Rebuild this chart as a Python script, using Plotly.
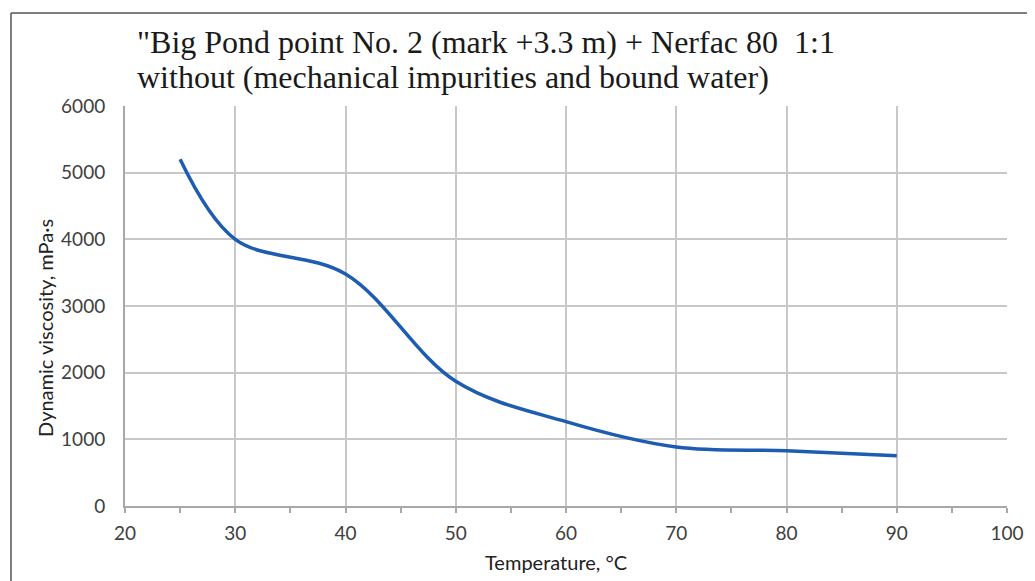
import plotly.graph_objects as go

temperature = [25, 30, 40, 50, 60, 70, 80, 90]
viscosity = [5200, 4000, 3480, 1870, 1265, 885, 830, 755]

x_ticks = [20, 30, 40, 50, 60, 70, 80, 90, 100]
y_ticks = [0, 1000, 2000, 3000, 4000, 5000, 6000]

title_line1 = '"Big Pond point No. 2 (mark +3.3 m) + Nerfac 80  1:1'
title_line2 = 'without (mechanical impurities and bound water)'
x_title = "Temperature, °C"
y_title = "Dynamic viscosity, mPa·s"

# page offset (default body margin in the html page)
OFF = 8
W, H = 1035 - OFF, 581 - OFF
L, T = 125 - OFF, 106 - OFF
R = W - (1007 - OFF)
B = H - (506 - OFF)
pw, ph = W - L - R, H - T - B


def px_x(px):
    return (px - OFF - L) / pw


def px_y(py):
    return (H - B - (py - OFF)) / ph


SANS = "Lato"
TICKC = "#404040"

fig = go.Figure()
fig.add_trace(go.Scatter(
    x=temperature, y=viscosity, mode="lines",
    line=dict(color="#1d5cb0", width=3.5, shape="spline", smoothing=1.0),
    showlegend=False, hoverinfo="x+y",
))

fig.update_layout(
    width=W, height=H,
    margin=dict(l=L, r=R, t=T, b=B),
    paper_bgcolor="white", plot_bgcolor="white",
    font=dict(family=SANS, size=19, color=TICKC),
    xaxis=dict(
        range=[20, 100], tickvals=x_ticks, showgrid=True,
        gridcolor="#c8c8c8", gridwidth=2,
        showline=True, linecolor="#a8a8a8", linewidth=2,
        ticks="outside", ticklen=5, tickwidth=1.5, tickcolor="#a8a8a8",
        minor=dict(dtick=5, ticks="outside", ticklen=5, tickwidth=1.5,
                   tickcolor="#a8a8a8", showgrid=False),
        ticklabelstandoff=4,
        zeroline=False, tickfont=dict(family=SANS, size=19, color=TICKC),
    ),
    yaxis=dict(
        range=[0, 6000], tickvals=y_ticks, showgrid=True,
        gridcolor="#c8c8c8", gridwidth=2,
        showline=True, linecolor="#a8a8a8", linewidth=2,
        ticks="", ticklabelstandoff=14,
        zeroline=False, tickfont=dict(family=SANS, size=19, color=TICKC),
    ),
)

# Title lines (serif)
for txt, cy in [(title_line1, 41.5), (title_line2, 77)]:
    fig.add_annotation(
        text=txt, xref="paper", yref="paper",
        x=px_x(135), y=px_y(cy),
        xanchor="left", yanchor="middle", showarrow=False,
        font=dict(family="Liberation Serif", size=32, color="#1a1a1a"),
    )

# Axis titles
fig.add_annotation(
    text=x_title, xref="paper", yref="paper",
    x=px_x(556), y=px_y(562),
    xanchor="center", yanchor="middle", showarrow=False,
    font=dict(family=SANS, size=20, color="#222222"),
)
fig.add_annotation(
    text=y_title, xref="paper", yref="paper",
    x=px_x(45), y=px_y(328), textangle=-90,
    xanchor="center", yanchor="middle", showarrow=False,
    font=dict(family=SANS, size=20, color="#222222"),
)

# Outer frame (left and top edges)
fig.add_shape(type="line", xref="paper", yref="paper",
              x0=px_x(11), x1=px_x(11), y0=px_y(600), y1=px_y(13),
              line=dict(color="#555555", width=1.5))
fig.add_shape(type="line", xref="paper", yref="paper",
              x0=px_x(11), x1=px_x(1050), y0=px_y(13), y1=px_y(13),
              line=dict(color="#555555", width=1.5))

fig.write_html("out.html")
